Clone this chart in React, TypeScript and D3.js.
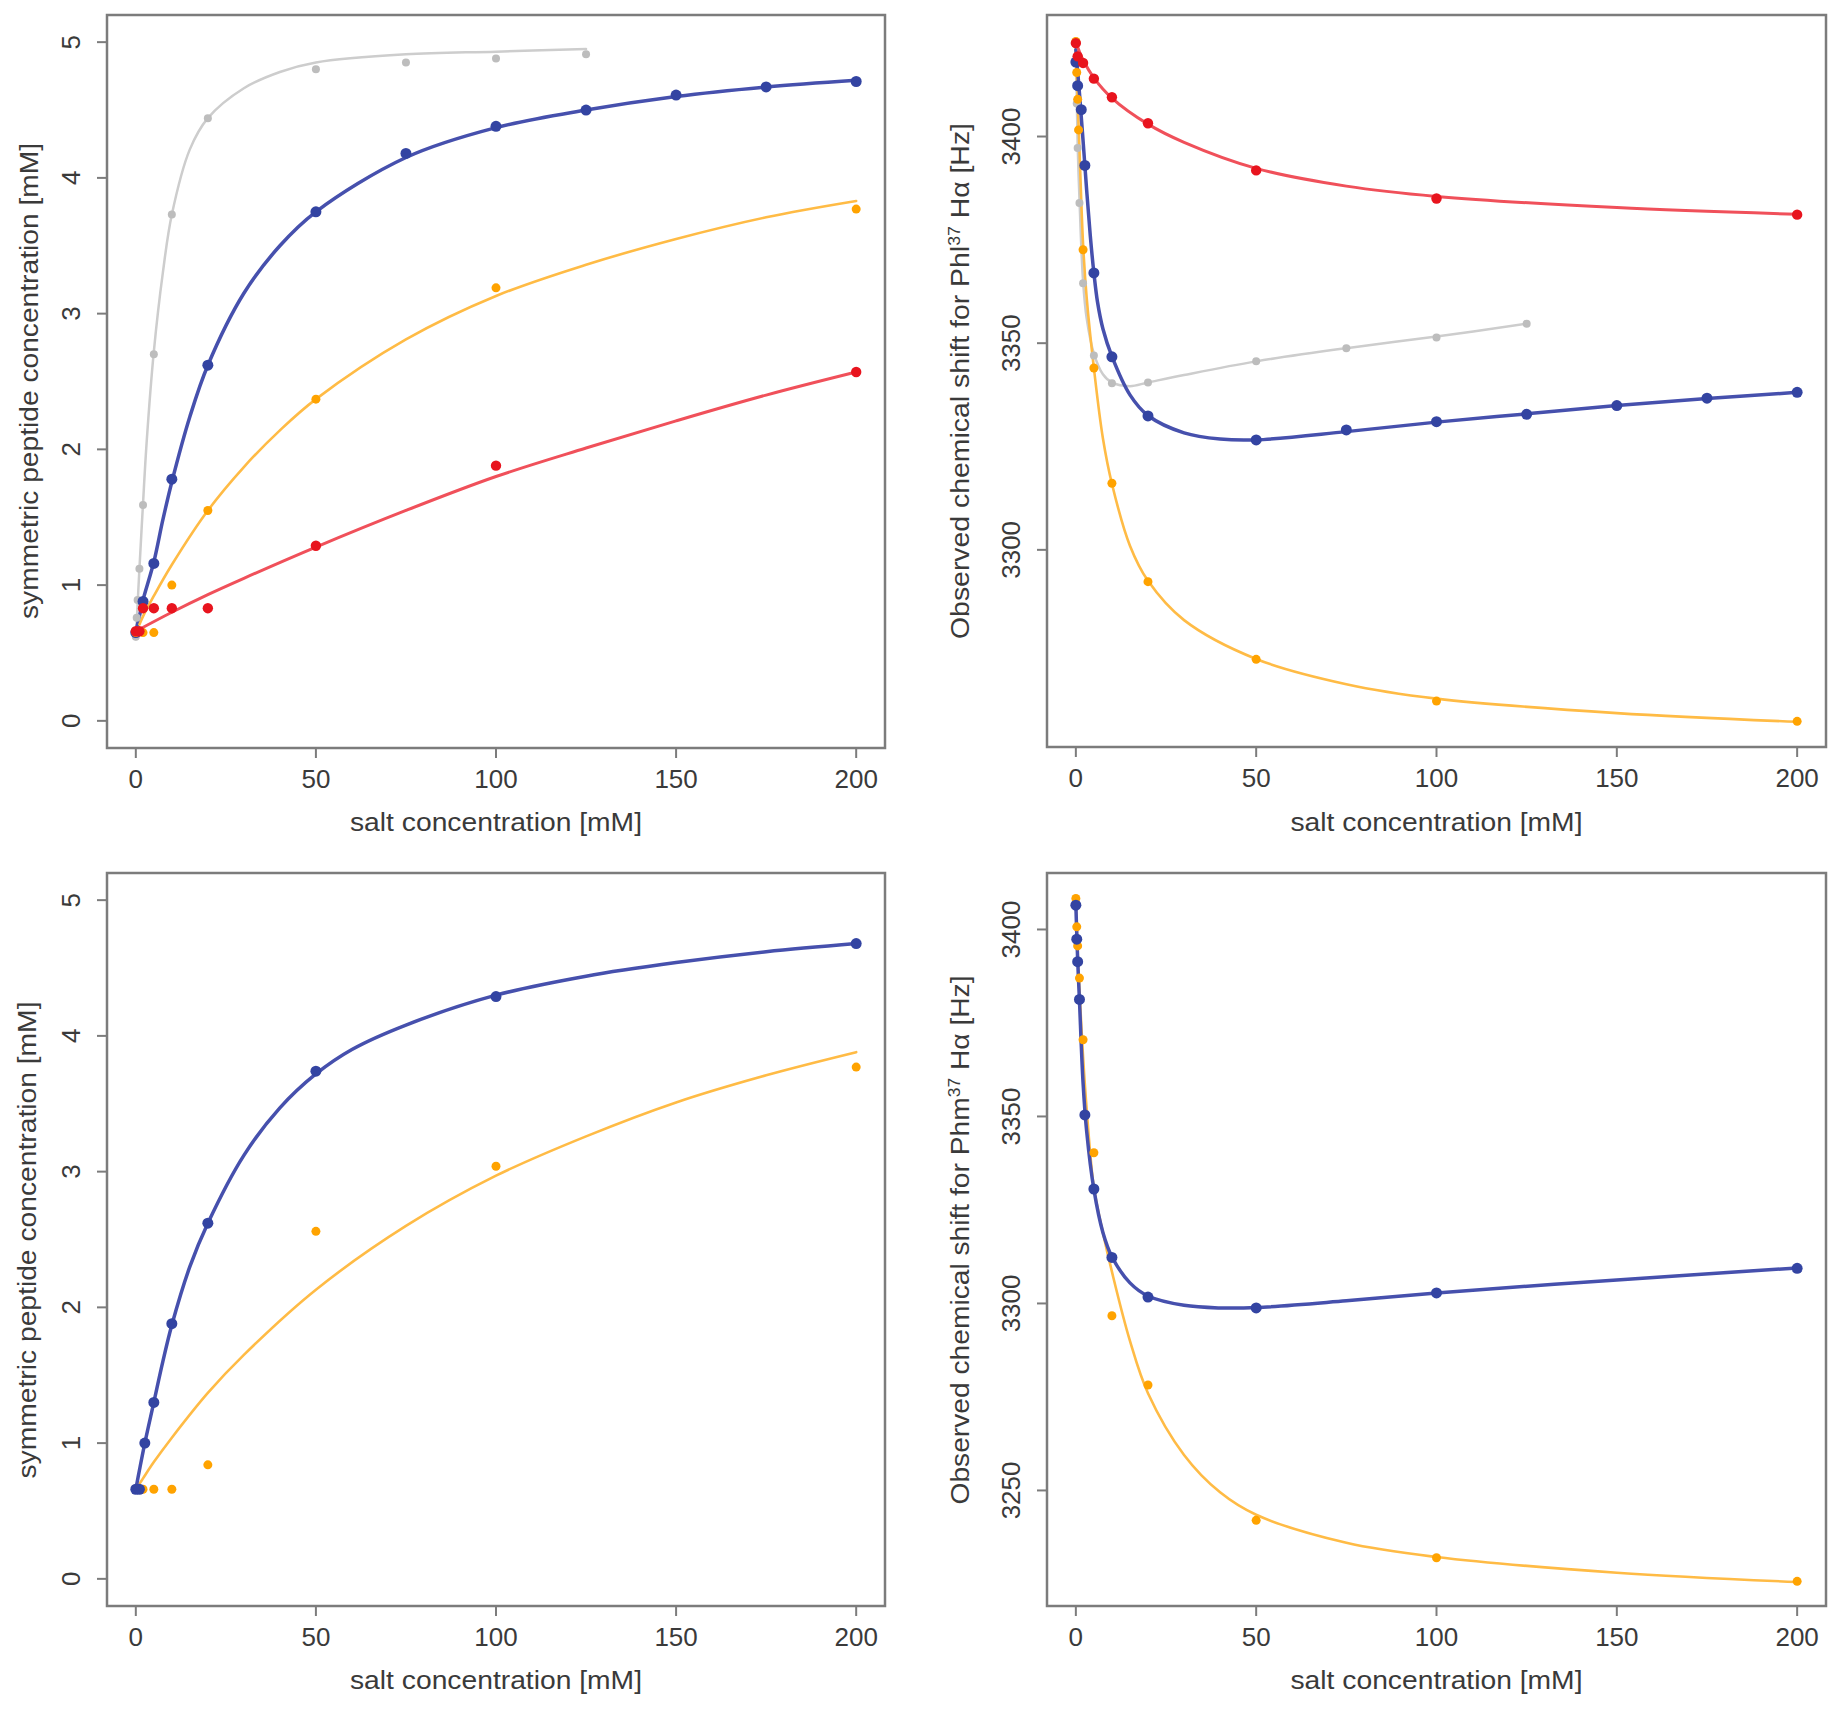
import React from 'react';
import * as d3 from 'd3';

// ---------- tick labels ----------
const X_TICKS = [0, 50, 100, 150, 200];
const CONC_TICKS = [0, 1, 2, 3, 4, 5];
const SHIFT_TICKS_TOP = [3300, 3350, 3400];
const SHIFT_TICKS_BOTTOM = [3250, 3300, 3350, 3400];

const X_TITLE = 'salt concentration [mM]';
const CONC_TITLE = 'symmetric peptide concentration [mM]';

// ---------- panel A (top left): peptide concentration ----------
const A_GREY_X = [0, 0.25, 0.5, 1, 2, 5, 10, 20, 50, 75, 100, 125];
const A_GREY_Y = [0.62, 0.76, 0.89, 1.12, 1.59, 2.70, 3.73, 4.44, 4.80, 4.85, 4.88, 4.91];
const A_GREY_FIT_X = [0, 0.5, 1, 2, 3, 5, 7.5, 10, 15, 20, 30, 40, 50, 75, 100, 125];
const A_GREY_FIT_Y = [0.60, 0.86, 1.12, 1.60, 2.05, 2.72, 3.30, 3.73, 4.21, 4.44, 4.66, 4.78, 4.85, 4.91, 4.93, 4.95];

const A_BLUE_X = [0, 2, 5, 10, 20, 50, 75, 100, 125, 150, 175, 200];
const A_BLUE_Y = [0.65, 0.88, 1.16, 1.78, 2.62, 3.75, 4.18, 4.38, 4.50, 4.61, 4.67, 4.71];
const A_BLUE_FIT_X = [0, 1, 2, 5, 7.5, 10, 15, 20, 30, 40, 50, 75, 100, 125, 150, 175, 200];
const A_BLUE_FIT_Y = [0.66, 0.77, 0.89, 1.17, 1.48, 1.76, 2.24, 2.62, 3.15, 3.50, 3.75, 4.15, 4.37, 4.50, 4.60, 4.67, 4.72];

const A_ORANGE_X = [0, 2, 5, 10, 20, 50, 100, 200];
const A_ORANGE_Y = [0.65, 0.65, 0.65, 1.00, 1.55, 2.37, 3.19, 3.77];
const A_ORANGE_FIT_X = [1, 2, 5, 10, 20, 30, 40, 50, 75, 100, 125, 150, 175, 200];
const A_ORANGE_FIT_Y = [0.71, 0.77, 0.92, 1.15, 1.55, 1.87, 2.14, 2.37, 2.81, 3.13, 3.36, 3.55, 3.71, 3.83];

const A_RED_X = [0, 1, 2, 5, 10, 20, 50, 100, 200];
const A_RED_Y = [0.66, 0.66, 0.83, 0.83, 0.83, 0.83, 1.29, 1.88, 2.57];
const A_RED_FIT_X = [0, 10, 20, 30, 50, 75, 100, 125, 150, 175, 200];
const A_RED_FIT_Y = [0.66, 0.80, 0.93, 1.05, 1.28, 1.55, 1.80, 2.01, 2.21, 2.40, 2.57];

// ---------- panel B (top right): chemical shift Phl37 ----------
const B_GREY_X = [0, 0.25, 0.5, 1, 2, 5, 10, 20, 50, 75, 100, 125];
const B_GREY_Y = [3423, 3408, 3397.2, 3383.9, 3364.5, 3347, 3340.3, 3340.5, 3345.6, 3348.8, 3351.4, 3354.7];
const B_GREY_FIT_X = [0, 0.5, 1, 2, 3, 5, 7.5, 10, 15, 20, 30, 50, 75, 100, 125];
const B_GREY_FIT_Y = [3423, 3398, 3385, 3365, 3356, 3347.5, 3342.5, 3340.5, 3339.6, 3340.5, 3342.3, 3345.6, 3348.8, 3351.6, 3354.7];

const B_ORANGE_X = [0, 0.25, 0.5, 0.75, 2, 5, 10, 20, 50, 100, 200];
const B_ORANGE_Y = [3423, 3415.5, 3409, 3401.6, 3372.6, 3344, 3316.1, 3292.3, 3273.5, 3263.4, 3258.5];
const B_ORANGE_FIT_X = [0, 0.5, 1, 2, 3, 5, 7.5, 10, 15, 20, 30, 50, 75, 100, 150, 200];
const B_ORANGE_FIT_Y = [3422, 3409, 3397, 3374, 3361, 3344, 3327, 3316, 3301, 3292.5, 3283, 3273.6, 3267.5, 3264, 3260.5, 3258.4];

const B_BLUE_X = [0, 0.5, 1.5, 2.5, 5, 10, 20, 50, 75, 100, 125, 150, 175, 200];
const B_BLUE_Y = [3418, 3412.3, 3406.5, 3393, 3367, 3346.7, 3332.4, 3326.6, 3329, 3331, 3332.8, 3334.9, 3336.7, 3338.1];
const B_BLUE_FIT_X = [0, 1, 2, 3, 4, 5, 6, 7.5, 10, 15, 20, 30, 40, 50, 75, 100, 125, 150, 175, 200];
const B_BLUE_FIT_Y = [3421, 3410.5, 3399, 3387, 3376, 3367, 3360, 3353.5, 3346.8, 3337.5, 3332.5, 3328.3, 3326.8, 3326.6, 3328.6, 3330.9, 3332.9, 3334.9, 3336.6, 3338.1];

const B_RED_X = [0, 0.5, 2, 5, 10, 20, 50, 100, 200];
const B_RED_Y = [3422.6, 3419.4, 3417.8, 3414, 3409.5, 3403.2, 3391.8, 3385, 3381.1];
const B_RED_FIT_X = [0, 1, 2, 5, 10, 20, 30, 50, 75, 100, 150, 200];
const B_RED_FIT_Y = [3423, 3420.5, 3418.5, 3414.2, 3409.3, 3403, 3398.6, 3392.3, 3388, 3385.5, 3382.8, 3381.2];

// ---------- panel C (bottom left): peptide concentration ----------
const C_ORANGE_X = [0, 2, 5, 10, 20, 50, 100, 200];
const C_ORANGE_Y = [0.66, 0.66, 0.66, 0.66, 0.84, 2.56, 3.04, 3.77];
const C_ORANGE_FIT_X = [1, 2, 5, 10, 20, 30, 50, 75, 100, 125, 150, 175, 200];
const C_ORANGE_FIT_Y = [0.70, 0.74, 0.86, 1.04, 1.37, 1.65, 2.13, 2.60, 2.97, 3.26, 3.51, 3.71, 3.88];

const C_BLUE_X = [0, 1, 2.5, 5, 10, 20, 50, 100, 200];
const C_BLUE_Y = [0.66, 0.66, 1.00, 1.30, 1.88, 2.62, 3.74, 4.29, 4.68];
const C_BLUE_FIT_X = [0, 1, 2.5, 5, 7.5, 10, 15, 20, 30, 40, 50, 60, 75, 100, 125, 150, 175, 200];
const C_BLUE_FIT_Y = [0.66, 0.80, 1.00, 1.30, 1.60, 1.87, 2.30, 2.62, 3.12, 3.47, 3.72, 3.90, 4.08, 4.30, 4.44, 4.54, 4.62, 4.68];

// ---------- panel D (bottom right): chemical shift Phm37 ----------
const D_ORANGE_X = [0, 0.25, 0.5, 1, 2, 5, 10, 20, 50, 100, 200];
const D_ORANGE_Y = [3408.3, 3400.7, 3395.6, 3387, 3370.5, 3340.3, 3296.7, 3278.2, 3242, 3232, 3225.7];
const D_ORANGE_FIT_X = [0, 0.5, 1, 2, 3, 5, 7.5, 10, 15, 20, 30, 40, 50, 75, 100, 150, 200];
const D_ORANGE_FIT_Y = [3408, 3394, 3384, 3366, 3352, 3331, 3319, 3308.5, 3290, 3276, 3259.5, 3249.5, 3243.5, 3236, 3232.2, 3228, 3225.5];

const D_BLUE_X = [0, 0.25, 0.5, 1, 2.5, 5, 10, 20, 50, 100, 200];
const D_BLUE_Y = [3406.5, 3397.4, 3391.4, 3381.3, 3350.4, 3330.6, 3312.3, 3301.7, 3298.8, 3302.8, 3309.4];
const D_BLUE_FIT_X = [0, 0.5, 1, 2, 3, 5, 7.5, 10, 15, 20, 30, 40, 50, 75, 100, 150, 200];
const D_BLUE_FIT_Y = [3406.5, 3392, 3381, 3359, 3346, 3330.5, 3319, 3312.5, 3305.5, 3302, 3299.5, 3298.8, 3298.9, 3300.7, 3302.8, 3306.3, 3309.5];

// ---------- styles ----------
const FONT = '"Liberation Sans", Arial, Helvetica, sans-serif';
const TEXT = '#3a3a3a';
const BOX = '#7c7c7c';
const STY = {
  grey: { pt: '#bdbdbd', ln: '#cdcdcd', lw: 2.5, r: 4 },
  blue: { pt: '#3344a2', ln: '#4650ad', lw: 3.5, r: 5.5 },
  orange: { pt: '#ffa300', ln: '#ffbb45', lw: 2.6, r: 4.5 },
  red: { pt: '#e8141e', ln: '#f0505a', lw: 3, r: 5.2 },
};

type S = { px: number[]; py: number[]; fx: number[]; fy: number[]; st: { pt: string; ln: string; lw: number; r: number } };

const mk = (px: number[], py: number[], fx: number[], fy: number[], st: any): S => ({ px, py, fx, fy, st });

interface PanelProps {
  left: number; right: number; top: number; bottom: number;
  yDomain: [number, number]; yTicks: number[];
  series: S[];
  yTitle: React.ReactNode; yTitleLen: number; yTitleSize: number; yTitleCx: number; yTitleCy: number;
  xTitleCy: number; xTitleLen: number;
}

function Panel(p: PanelProps) {
  const x = d3.scaleLinear().domain([-8, 208]).range([p.left, p.right]);
  const y = d3.scaleLinear().domain(p.yDomain).range([p.bottom, p.top]);
  const line = d3.line<[number, number]>().x(d => x(d[0])).y(d => y(d[1])).curve(d3.curveCatmullRom.alpha(0.5));
  const tickFs = 26;
  const tickLen = 10;
  const xTitleFs = 25;
  return (
    <g>
      <rect x={p.left} y={p.top} width={p.right - p.left} height={p.bottom - p.top} fill="none" stroke={BOX} strokeWidth={2.5} />
      {X_TICKS.map(t => (
        <g key={'x' + t}>
          <line x1={x(t)} x2={x(t)} y1={p.bottom} y2={p.bottom + tickLen} stroke={BOX} strokeWidth={2} />
          <text x={x(t)} y={p.bottom + 31 + 0.36 * tickFs} textAnchor="middle" fontSize={tickFs} fill={TEXT} fontFamily={FONT}>{t}</text>
        </g>
      ))}
      {p.yTicks.map(t => (
        <g key={'y' + t}>
          <line x1={p.left - tickLen} x2={p.left} y1={y(t)} y2={y(t)} stroke={BOX} strokeWidth={2} />
          <text transform={`translate(${p.left - 36 + 0.36 * tickFs},${y(t)}) rotate(-90)`} textAnchor="middle" fontSize={tickFs} fill={TEXT} fontFamily={FONT}>{t}</text>
        </g>
      ))}
      <text x={(p.left + p.right) / 2} y={p.xTitleCy + 0.26 * xTitleFs} textAnchor="middle" fontSize={xTitleFs} fill={TEXT} fontFamily={FONT}
        textLength={p.xTitleLen} lengthAdjust="spacingAndGlyphs">{X_TITLE}</text>
      <text transform={`translate(${p.yTitleCx + 0.26 * p.yTitleSize},${p.yTitleCy}) rotate(-90)`} textAnchor="middle" fontSize={p.yTitleSize}
        fill={TEXT} fontFamily={FONT} textLength={p.yTitleLen} lengthAdjust="spacingAndGlyphs">{p.yTitle}</text>
      {p.series.map((s, i) => (
        <path key={'l' + i} d={line(s.fx.map((v, j) => [v, s.fy[j]] as [number, number])) || ''} fill="none" stroke={s.st.ln} strokeWidth={s.st.lw} strokeLinejoin="round" strokeLinecap="round" />
      ))}
      {p.series.map((s, i) => (
        <g key={'p' + i}>
          {s.px.map((v, j) => <circle key={j} cx={x(v)} cy={y(s.py[j])} r={s.st.r} fill={s.st.pt} />)}
        </g>
      ))}
    </g>
  );
}

const shiftTitle = (res: string) => (
  <>
    {'Observed chemical shift for ' + res}
    <tspan dy={-9} fontSize="0.62em">37</tspan>
    <tspan dy={9}>{' H\u03b1 [Hz]'}</tspan>
  </>
);

export default function App() {
  return (
    <div style={{ position: 'absolute', left: 0, top: 0 }}>
      <svg width={1838} height={1709} style={{ display: 'block', background: '#fff' }}>
        <rect x={0} y={0} width={1838} height={1709} fill="#fff" />
        <Panel left={107} right={885} top={15} bottom={748} yDomain={[-0.2, 5.2]} yTicks={CONC_TICKS}
          series={[
            mk(A_GREY_X, A_GREY_Y, A_GREY_FIT_X, A_GREY_FIT_Y, STY.grey),
            mk(A_BLUE_X, A_BLUE_Y, A_BLUE_FIT_X, A_BLUE_FIT_Y, STY.blue),
            mk(A_ORANGE_X, A_ORANGE_Y, A_ORANGE_FIT_X, A_ORANGE_FIT_Y, STY.orange),
            mk(A_RED_X, A_RED_Y, A_RED_FIT_X, A_RED_FIT_Y, STY.red),
          ]}
          yTitle={CONC_TITLE} yTitleLen={476} yTitleSize={25} yTitleCx={31} yTitleCy={381}
          xTitleCy={824} xTitleLen={292} />
        <Panel left={1047} right={1826} top={15} bottom={747} yDomain={[3252.3, 3429.4]} yTicks={SHIFT_TICKS_TOP}
          series={[
            mk(B_GREY_X, B_GREY_Y, B_GREY_FIT_X, B_GREY_FIT_Y, STY.grey),
            mk(B_ORANGE_X, B_ORANGE_Y, B_ORANGE_FIT_X, B_ORANGE_FIT_Y, STY.orange),
            mk(B_BLUE_X, B_BLUE_Y, B_BLUE_FIT_X, B_BLUE_FIT_Y, STY.blue),
            mk(B_RED_X, B_RED_Y, B_RED_FIT_X, B_RED_FIT_Y, STY.red),
          ]}
          yTitle={shiftTitle('Phl')} yTitleLen={516} yTitleSize={26} yTitleCx={962} yTitleCy={381}
          xTitleCy={824} xTitleLen={292} />
        <Panel left={107} right={885} top={873} bottom={1606} yDomain={[-0.2, 5.2]} yTicks={CONC_TICKS}
          series={[
            mk(C_ORANGE_X, C_ORANGE_Y, C_ORANGE_FIT_X, C_ORANGE_FIT_Y, STY.orange),
            mk(C_BLUE_X, C_BLUE_Y, C_BLUE_FIT_X, C_BLUE_FIT_Y, STY.blue),
          ]}
          yTitle={CONC_TITLE} yTitleLen={477} yTitleSize={25} yTitleCx={29} yTitleCy={1240}
          xTitleCy={1682} xTitleLen={292} />
        <Panel left={1047} right={1826} top={873} bottom={1606} yDomain={[3219.1, 3415.1]} yTicks={SHIFT_TICKS_BOTTOM}
          series={[
            mk(D_ORANGE_X, D_ORANGE_Y, D_ORANGE_FIT_X, D_ORANGE_FIT_Y, STY.orange),
            mk(D_BLUE_X, D_BLUE_Y, D_BLUE_FIT_X, D_BLUE_FIT_Y, STY.blue),
          ]}
          yTitle={shiftTitle('Phm')} yTitleLen={529} yTitleSize={26} yTitleCx={962} yTitleCy={1240}
          xTitleCy={1682} xTitleLen={292} />
      </svg>
    </div>
  );
}
